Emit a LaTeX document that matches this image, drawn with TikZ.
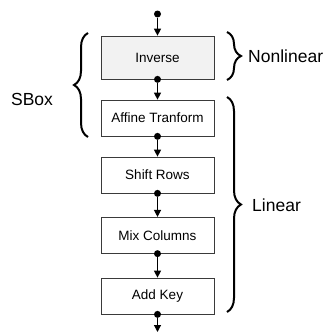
\documentclass[tikz,border=0pt]{standalone}
\usepackage{fontspec}
\setmainfont{Liberation Sans}
\usetikzlibrary{arrows.meta,decorations.pathreplacing}
\definecolor{stagefill}{HTML}{F2F2F2}
\definecolor{stageline}{HTML}{3A3A3A}

\begin{document}
\begin{tikzpicture}[x=1pt, y=-1pt,
        stage/.style={draw=stageline, line width=0.7pt, minimum width=113pt, minimum height=36pt, inner sep=0pt, font=\fontsize{13.5}{16}\selectfont},
        dot/.style={circle, fill=black, inner sep=0pt, minimum size=7pt},
        flow/.style={line width=1.2pt, -{Triangle[width=7pt,length=7pt]}},
        bracket/.style={decorate, decoration={brace, amplitude=14pt}, line width=2pt},
        lbl/.style={font=\fontsize{17.5}{20}\selectfont, inner sep=0pt}]
        \useasboundingbox (0,0) rectangle (330,332);
        \def\cx{157.5}
        % Nodes
        \node[stage, fill=stagefill, minimum height=43pt] (inv) at (\cx,57.5) {Inverse};
        \node[stage] (aff) at (\cx,118) {Affine Tranform};
        \node[stage] (shr) at (\cx,175) {Shift Rows};
        \node[stage] (mix) at (\cx,235.3) {Mix Columns};
        \node[stage] (key) at (\cx,296) {Add Key};
        \node[dot] (in) at (\cx,14) {};
        \node[dot] (d1) at (inv.south) {};
        \node[dot] (d2) at (aff.south) {};
        \node[dot] (d3) at (shr.south) {};
        \node[dot] (d4) at (mix.south) {};
        \node[dot] (d5) at (key.south) {};
        \coordinate (out) at (\cx,332);
        % Arrows
        \path[flow] (in) edge (inv);
        \path[flow] (d1) edge (aff);
        \path[flow] (d2) edge (shr);
        \path[flow] (d3) edge (mix);
        \path[flow] (d4) edge (key);
        \path[flow] (d5) edge (out);
        % Braces
        \coordinate (sbtop) at (88,33);
        \coordinate (sbbot) at (88,137);
        \coordinate (nltop) at (227,32);
        \coordinate (nlbot) at (227,80);
        \coordinate (lntop) at (227,97);
        \coordinate (lnbot) at (227,312);
        \draw[bracket] (sbbot) -- (sbtop);
        \draw[bracket] (nltop) -- (nlbot);
        \draw[bracket] (lntop) -- (lnbot);
        \node[lbl] (sbox) at (32,99.5) {SBox};
        \node[lbl, anchor=west] (nonlin) at (248,56) {Nonlinear};
        \node[lbl, anchor=west] (lin) at (252,205) {Linear};
    \end{tikzpicture}
\end{document}
